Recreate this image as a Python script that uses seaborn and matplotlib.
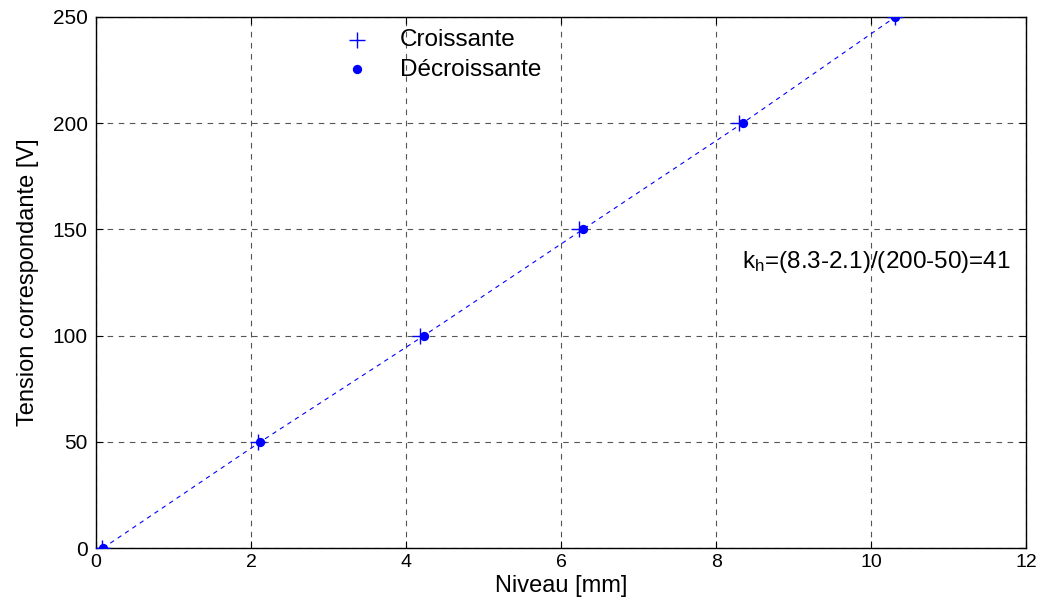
import matplotlib
matplotlib.use("Agg")
import matplotlib.pyplot as plt
import seaborn as sns
import pandas as pd

# Data
tension = [0, 50, 100, 150, 200, 250]
niveau_croissante = [0.08, 2.09, 4.18, 6.23, 8.30, 10.31]
niveau_decroissante = [0.09, 2.12, 4.23, 6.28, 8.34, 10.31]
x_ticks = [0, 2, 4, 6, 8, 10, 12]
y_ticks = [0, 50, 100, 150, 200, 250]
annotation = "k$_\\mathregular{h}$=(8.3-2.1)/(200-50)=41"

sns.set_style("white", {"text.color": "black", "axes.labelcolor": "black",
                        "xtick.color": "black", "ytick.color": "black"})
plt.rcParams['font.family'] = ['Liberation Sans', 'DejaVu Sans']
plt.rcParams['mathtext.default'] = 'regular'

df_c = pd.DataFrame({"Niveau": niveau_croissante, "Tension": tension})
df_d = pd.DataFrame({"Niveau": niveau_decroissante, "Tension": tension})

fig = plt.figure(figsize=(10.43, 6.05), dpi=100)
ax = fig.add_axes([0.092, 0.094, 0.892, 0.878])

sns.lineplot(data=df_d, x="Niveau", y="Tension", ax=ax, color="#0000FF",
             linestyle=(0, (4, 4)), linewidth=0.8, sort=False, zorder=2)
sns.scatterplot(data=df_c, x="Niveau", y="Tension", ax=ax, marker="+",
                color="#0000FF", s=140, linewidth=1.0, label="Croissante", zorder=3)
sns.scatterplot(data=df_d, x="Niveau", y="Tension", ax=ax, marker="o",
                color="#0000FF", s=45, edgecolor="#0000FF", linewidth=0,
                label="Décroissante", zorder=4)

ax.set_xlim(0, 12)
ax.set_ylim(0, 250)
ax.set_xticks(x_ticks)
ax.set_yticks(y_ticks)
ax.tick_params(direction="in", length=5, colors="black",
               top=True, right=True, bottom=True, left=True)
ax.tick_params(axis="y", labelsize=15, pad=6)
ax.tick_params(axis="x", labelsize=14, pad=4)
ax.grid(True, color="#555555", linestyle=(0, (5, 5)), linewidth=0.8)
for sp in ax.spines.values():
    sp.set_color("black")
    sp.set_linewidth(1.0)
ax.set_xlabel("Niveau [mm]", fontsize=17, labelpad=3, color="black")
ax.set_ylabel("Tension correspondante [V]", fontsize=17, labelpad=10, color="black")

ax.text(8.33, 132, annotation, fontsize=17.5, color="black", ha="left", va="baseline")

leg = ax.legend(loc="upper left", bbox_to_anchor=(0.231, 1.018), frameon=False,
                fontsize=17.5, handletextpad=0.75, labelspacing=0.3,
                markerscale=1.0)
for t in leg.get_texts():
    t.set_color("black")

fig.savefig("out.png", dpi=100)
